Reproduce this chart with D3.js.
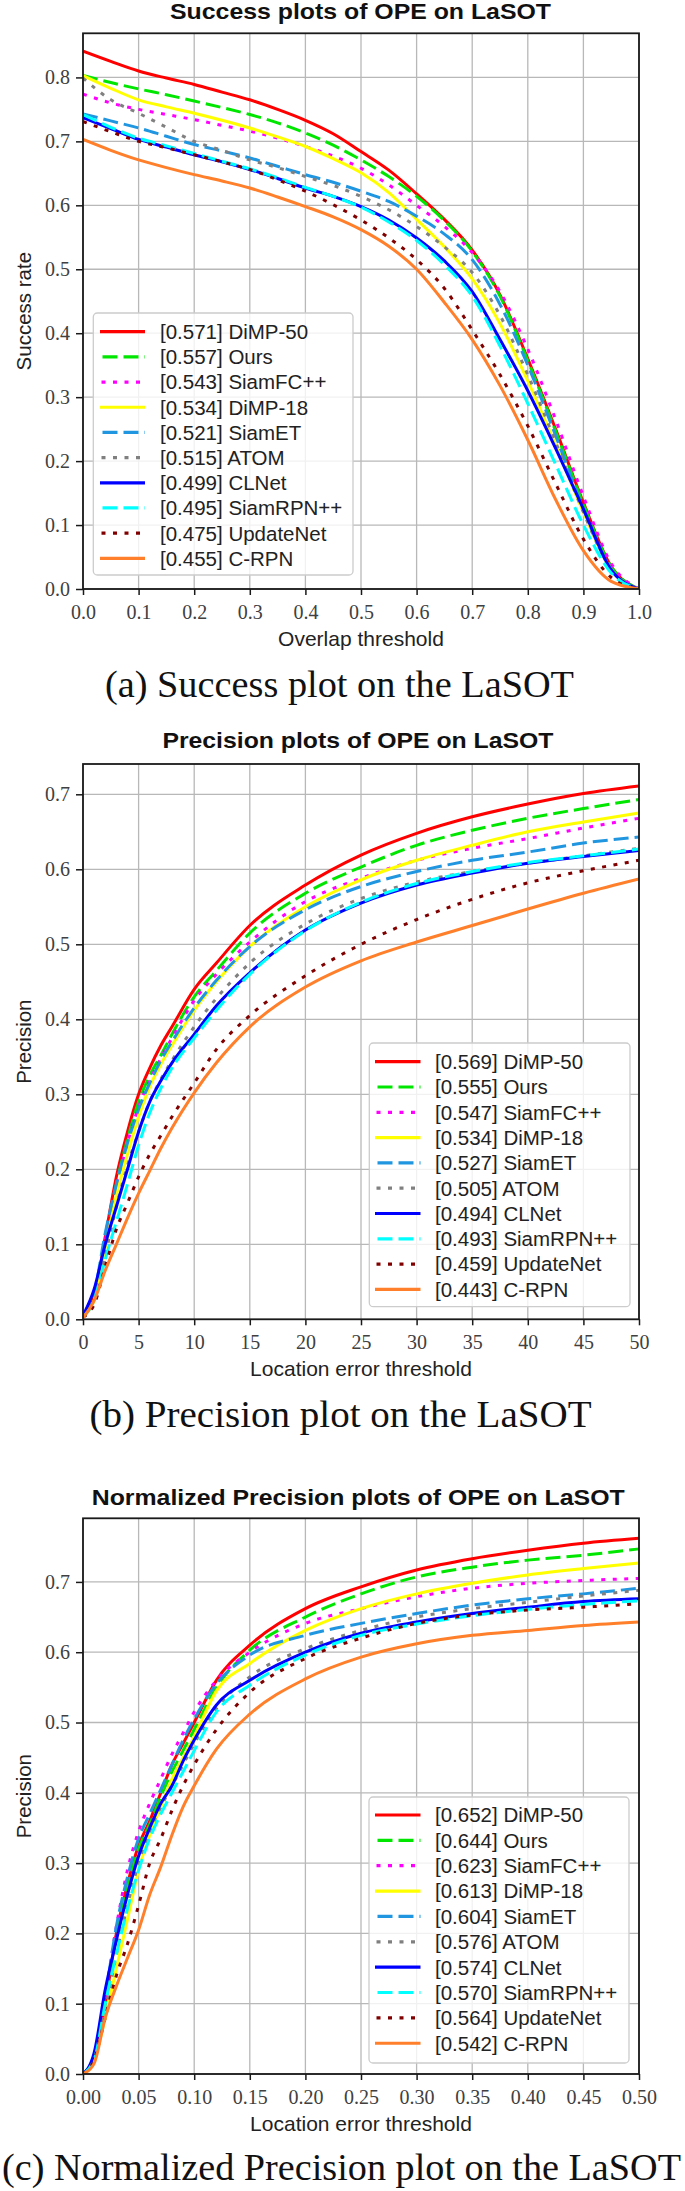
<!DOCTYPE html>
<html><head><meta charset="utf-8">
<script src="https://cdn.jsdelivr.net/npm/d3@7"></script>
<style>body{margin:0;background:#fff}</style>
</head><body>
<svg id="c" width="685" height="2191"></svg>
<script>
// ---------- DATA ----------
const trackers = ["DiMP-50","Ours","SiamFC++","DiMP-18","SiamET","ATOM","CLNet","SiamRPN++","UpdateNet","C-RPN"];
const successScores = [0.571,0.557,0.543,0.534,0.521,0.515,0.499,0.495,0.475,0.455];
const precisionScores = [0.569,0.555,0.547,0.534,0.527,0.505,0.494,0.493,0.459,0.443];
const normPrecisionScores = [0.652,0.644,0.623,0.613,0.604,0.576,0.574,0.570,0.564,0.542];

const successX = [0,0.05,0.1,0.15,0.2,0.25,0.3,0.35,0.4,0.45,0.5,0.55,0.6,0.65,0.7,0.75,0.8,0.85,0.9,0.95,1.0];
const successY = [
 [0.841,0.825,0.810,0.799,0.789,0.777,0.765,0.750,0.733,0.712,0.684,0.655,0.618,0.578,0.530,0.460,0.360,0.250,0.135,0.035,0],
 [0.803,0.792,0.782,0.773,0.763,0.753,0.742,0.729,0.713,0.694,0.671,0.645,0.614,0.576,0.528,0.458,0.357,0.247,0.133,0.035,0],
 [0.774,0.760,0.750,0.742,0.734,0.725,0.716,0.705,0.692,0.677,0.658,0.632,0.600,0.567,0.526,0.465,0.375,0.265,0.145,0.040,0],
 [0.803,0.783,0.765,0.754,0.744,0.733,0.721,0.707,0.692,0.673,0.651,0.620,0.578,0.535,0.485,0.415,0.325,0.225,0.120,0.030,0],
 [0.743,0.732,0.721,0.708,0.695,0.685,0.674,0.661,0.648,0.636,0.622,0.606,0.583,0.555,0.515,0.445,0.350,0.240,0.125,0.030,0],
 [0.799,0.765,0.744,0.722,0.700,0.686,0.671,0.659,0.645,0.631,0.614,0.593,0.567,0.535,0.495,0.428,0.335,0.230,0.120,0.030,0],
 [0.737,0.720,0.703,0.691,0.679,0.668,0.656,0.642,0.627,0.614,0.598,0.577,0.549,0.513,0.465,0.390,0.310,0.220,0.125,0.030,0],
 [0.742,0.722,0.705,0.693,0.681,0.669,0.657,0.643,0.628,0.614,0.597,0.574,0.545,0.507,0.458,0.380,0.290,0.195,0.100,0.025,0],
 [0.731,0.715,0.700,0.690,0.679,0.668,0.656,0.640,0.622,0.601,0.577,0.549,0.515,0.470,0.405,0.335,0.255,0.165,0.078,0.018,0],
 [0.703,0.686,0.671,0.659,0.648,0.638,0.627,0.613,0.598,0.582,0.562,0.536,0.500,0.448,0.390,0.318,0.233,0.140,0.060,0.012,0]
];

const precisionX = [0,1,2,3,4,5,6,7,8,10,12,15,20,25,30,35,40,45,50];
const precisionY = [
 [0.005,0.03,0.11,0.19,0.25,0.30,0.335,0.365,0.39,0.44,0.475,0.525,0.579,0.619,0.648,0.670,0.687,0.701,0.711],
 [0.005,0.03,0.105,0.18,0.24,0.29,0.325,0.352,0.38,0.43,0.465,0.515,0.568,0.603,0.632,0.652,0.668,0.681,0.693],
 [0.005,0.03,0.105,0.175,0.235,0.283,0.318,0.348,0.375,0.425,0.46,0.503,0.557,0.588,0.612,0.628,0.641,0.655,0.668],
 [0.005,0.025,0.095,0.165,0.22,0.27,0.31,0.34,0.365,0.412,0.45,0.497,0.55,0.586,0.612,0.632,0.650,0.663,0.675],
 [0.005,0.035,0.115,0.18,0.235,0.28,0.315,0.345,0.37,0.415,0.452,0.497,0.546,0.577,0.597,0.612,0.623,0.635,0.643],
 [0.003,0.02,0.085,0.15,0.205,0.25,0.29,0.32,0.345,0.39,0.428,0.475,0.527,0.561,0.583,0.597,0.608,0.618,0.628],
 [0.005,0.04,0.10,0.15,0.20,0.25,0.29,0.318,0.342,0.38,0.418,0.462,0.519,0.555,0.579,0.595,0.608,0.617,0.625],
 [0.003,0.025,0.08,0.13,0.18,0.232,0.275,0.308,0.335,0.375,0.412,0.46,0.518,0.556,0.581,0.597,0.609,0.618,0.627],
 [0.003,0.02,0.07,0.12,0.155,0.19,0.22,0.245,0.27,0.315,0.36,0.405,0.458,0.50,0.533,0.56,0.582,0.598,0.612],
 [0.002,0.025,0.065,0.10,0.135,0.168,0.198,0.228,0.255,0.302,0.342,0.39,0.443,0.478,0.503,0.525,0.547,0.568,0.587]
];

const normX = [0,0.01,0.02,0.03,0.04,0.05,0.06,0.07,0.08,0.09,0.10,0.12,0.15,0.2,0.25,0.3,0.35,0.4,0.45,0.5];
const normY = [
 [0,0.025,0.10,0.20,0.27,0.325,0.36,0.40,0.44,0.47,0.50,0.56,0.61,0.662,0.693,0.717,0.733,0.745,0.755,0.762],
 [0,0.025,0.10,0.195,0.265,0.32,0.355,0.395,0.43,0.46,0.49,0.55,0.603,0.65,0.683,0.707,0.721,0.731,0.738,0.747],
 [0,0.025,0.11,0.21,0.29,0.345,0.385,0.42,0.455,0.485,0.515,0.56,0.60,0.641,0.662,0.679,0.691,0.698,0.702,0.705],
 [0,0.02,0.08,0.15,0.22,0.29,0.34,0.38,0.42,0.45,0.48,0.545,0.584,0.631,0.662,0.683,0.698,0.710,0.719,0.727],
 [0,0.025,0.11,0.21,0.28,0.335,0.37,0.405,0.44,0.475,0.505,0.555,0.596,0.624,0.641,0.655,0.667,0.676,0.683,0.691],
 [0,0.02,0.09,0.17,0.24,0.30,0.345,0.38,0.41,0.44,0.47,0.52,0.565,0.605,0.631,0.650,0.662,0.671,0.68,0.688],
 [0,0.03,0.12,0.19,0.255,0.31,0.35,0.385,0.41,0.445,0.475,0.525,0.56,0.60,0.627,0.643,0.655,0.664,0.672,0.676],
 [0,0.02,0.10,0.17,0.235,0.29,0.335,0.37,0.40,0.43,0.46,0.515,0.553,0.596,0.624,0.64,0.652,0.661,0.668,0.673],
 [0,0.02,0.08,0.14,0.185,0.24,0.30,0.335,0.375,0.41,0.44,0.49,0.543,0.591,0.620,0.641,0.653,0.660,0.664,0.669],
 [0,0.015,0.08,0.125,0.165,0.205,0.255,0.295,0.34,0.38,0.41,0.462,0.512,0.562,0.593,0.612,0.624,0.631,0.638,0.643]
];

const successXTicks = [0,0.1,0.2,0.3,0.4,0.5,0.6,0.7,0.8,0.9,1.0];
const successYTicks = [0,0.1,0.2,0.3,0.4,0.5,0.6,0.7,0.8];
const precisionXTicks = [0,5,10,15,20,25,30,35,40,45,50];
const precisionYTicks = [0,0.1,0.2,0.3,0.4,0.5,0.6,0.7];
const normXTicks = [0,0.05,0.10,0.15,0.20,0.25,0.30,0.35,0.40,0.45,0.50];
const normYTicks = [0,0.1,0.2,0.3,0.4,0.5,0.6,0.7];

// ---------- STYLES ----------
const colors = ["#ff0000","#00e600","#ff00ff","#ffff00","#2196e0","#808080","#0000ff","#00ffff","#800000","#ff7f2a"];
const dashes = [null,"15,6","4,7.5",null,"15,6","4,7.5",null,"15,6","4,7.5",null];
const SANS = "'Liberation Sans', Arial, Helvetica, sans-serif";
const SERIF = "'Liberation Serif', 'Times New Roman', serif";

const panels = [
 {xs:successX, ys:successY, scores:successScores, xDom:[0,1], xTicks:successXTicks, xFmt:d3.format(".1f"),
  yMax:0.869, yTicks:successYTicks, top:33.3, bottom:589,
  title:"Success plots of OPE on LaSOT", titleX:170, titleY:18.5, titleLen:381,
  xLabel:"Overlap threshold", yLabel:"Success rate",
  caption:"(a) Success plot on the LaSOT", capX:105, capY:697, capLen:469,
  leg:{x:93.3,y:313,w:259.7,h:262,row0:331.7,step:25.18,hx0:100,hx1:145,tx:160}},
 {xs:precisionX, ys:precisionY, scores:precisionScores, xDom:[0,50], xTicks:precisionXTicks, xFmt:d3.format("d"),
  yMax:0.7404, yTicks:precisionYTicks, top:764, bottom:1319.3,
  title:"Precision plots of OPE on LaSOT", titleX:162.4, titleY:748.3, titleLen:391,
  xLabel:"Location error threshold", yLabel:"Precision",
  caption:"(b) Precision plot on the LaSOT", capX:89.5, capY:1426.7, capLen:502,
  leg:{x:369.3,y:1043,w:260.7,h:263.7,row0:1061.7,step:25.3,hx0:375,hx1:420.5,tx:435}},
 {xs:normX, ys:normY, scores:normPrecisionScores, xDom:[0,0.5], xTicks:normXTicks, xFmt:d3.format(".2f"),
  yMax:0.7905, yTicks:normYTicks, top:1518.3, bottom:2074,
  title:"Normalized Precision plots of OPE on LaSOT", titleX:91.7, titleY:1505, titleLen:533,
  xLabel:"Location error threshold", yLabel:"Precision",
  caption:"(c) Normalized Precision plot on the LaSOT", capX:2, capY:2180, capLen:679,
  leg:{x:369,y:1797,w:260,h:266,row0:1815,step:25.36,hx0:375,hx1:420.5,tx:435}}
];

const XL = 83, XR = 639;
const svg = d3.select("#c");

panels.forEach((p, pi) => {
  const x = d3.scaleLinear().domain(p.xDom).range([XL, XR]);
  const y = d3.scaleLinear().domain([0, p.yMax]).range([p.bottom, p.top]);
  const g = svg.append("g");

  const cid = "clip" + pi;
  svg.append("clipPath").attr("id", cid).append("rect")
    .attr("x", XL).attr("y", p.top).attr("width", XR - XL).attr("height", p.bottom - p.top);

  // grid
  g.append("g").selectAll("line").data(p.xTicks).join("line")
    .attr("x1", d => x(d)).attr("x2", d => x(d)).attr("y1", p.top).attr("y2", p.bottom)
    .attr("stroke", "#b8b8b8").attr("stroke-width", 1.3);
  g.append("g").selectAll("line").data(p.yTicks).join("line")
    .attr("x1", XL).attr("x2", XR).attr("y1", d => y(d)).attr("y2", d => y(d))
    .attr("stroke", "#b8b8b8").attr("stroke-width", 1.3);

  // lines
  const lg = g.append("g").attr("clip-path", `url(#${cid})`);
  p.ys.forEach((vals, si) => {
    const line = d3.line().x((d, i) => x(p.xs[i])).y(d => y(d)).curve(d3.curveMonotoneX);
    lg.append("path").attr("d", line(vals)).attr("fill", "none")
      .attr("stroke", colors[si]).attr("stroke-width", 3)
      .attr("stroke-dasharray", dashes[si]);
  });

  // spines
  g.append("rect").attr("x", XL).attr("y", p.top).attr("width", XR - XL).attr("height", p.bottom - p.top)
    .attr("fill", "none").attr("stroke", "#1a1a1a").attr("stroke-width", 1.8);

  // axes
  const ax = g.append("g").attr("transform", `translate(0,${p.bottom})`)
    .call(d3.axisBottom(x).tickValues(p.xTicks).tickFormat(p.xFmt).tickSize(6).tickPadding(10));
  const ay = g.append("g").attr("transform", `translate(${XL},0)`)
    .call(d3.axisLeft(y).tickValues(p.yTicks).tickFormat(d3.format(".1f")).tickSize(7).tickPadding(6));
  [ax, ay].forEach(a => {
    a.select(".domain").remove();
    a.selectAll(".tick line").attr("stroke", "#1a1a1a").attr("stroke-width", 1.5);
    a.selectAll(".tick text").attr("font-family", SERIF).attr("font-size", 20).attr("fill", "#404040");
  });

  // title
  g.append("text").attr("x", p.titleX).attr("y", p.titleY).text(p.title)
    .attr("font-family", SANS).attr("font-weight", "bold").attr("font-size", 22.5)
    .attr("textLength", p.titleLen).attr("lengthAdjust", "spacingAndGlyphs").attr("fill", "#111");

  // axis labels
  g.append("text").attr("x", (XL + XR) / 2).attr("y", p.bottom + 57).attr("text-anchor", "middle")
    .attr("font-family", SANS).attr("font-size", 21).attr("fill", "#222").text(p.xLabel);
  g.append("text").attr("transform", `translate(31,${(p.top + p.bottom) / 2}) rotate(-90)`)
    .attr("text-anchor", "middle").attr("font-family", SANS).attr("font-size", 20.5).attr("fill", "#222").text(p.yLabel);

  // legend
  const L = p.leg;
  const leg = g.append("g");
  leg.append("rect").attr("x", L.x).attr("y", L.y).attr("width", L.w).attr("height", L.h)
    .attr("rx", 4).attr("fill", "#fff").attr("fill-opacity", 0.8)
    .attr("stroke", "#cccccc").attr("stroke-width", 1.3);
  trackers.forEach((name, si) => {
    const ry = L.row0 + si * L.step;
    leg.append("line").attr("x1", L.hx0).attr("x2", L.hx1).attr("y1", ry).attr("y2", ry)
      .attr("stroke", colors[si]).attr("stroke-width", 3.2).attr("stroke-dasharray", dashes[si])
      .attr("stroke-dashoffset", dashes[si] && dashes[si].startsWith("15") ? -2.5 : (dashes[si] ? -1.5 : 0));
    leg.append("text").attr("x", L.tx).attr("y", ry).attr("dy", "0.36em")
      .attr("font-family", SANS).attr("font-size", 20.5).attr("fill", "#222")
      .text(`[${p.scores[si].toFixed(3)}] ${name}`);
  });

  // caption
  svg.append("text").attr("x", p.capX).attr("y", p.capY).text(p.caption)
    .attr("font-family", SERIF).attr("font-size", 38).attr("fill", "#111")
    .attr("textLength", p.capLen).attr("lengthAdjust", "spacingAndGlyphs");
});
</script>
</body></html>
